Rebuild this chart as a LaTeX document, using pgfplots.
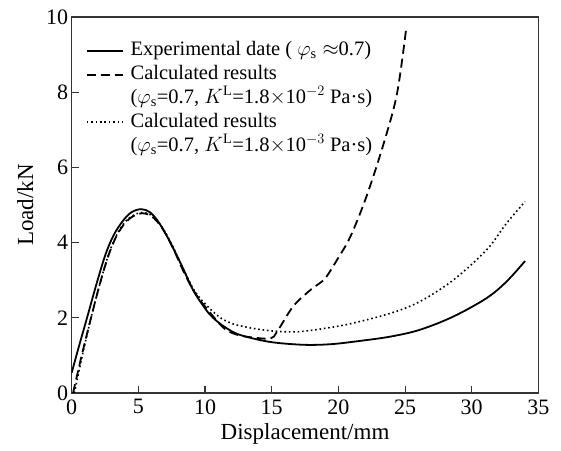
\documentclass[border=0pt]{standalone}
\usepackage{fontspec}
\setmainfont{Liberation Serif}
\usepackage{pgfplots}
\pgfplotsset{compat=1.18}
\begin{document}
\begin{tikzpicture}
\begin{axis}[
scale only axis,
width=466.7pt, height=376pt,
xmin=0, xmax=35,
ymin=0, ymax=10,
xtick={0,5,...,35},
ytick={0,2,...,10},
tick pos=left,
tick align=inside,
major tick length=7pt,
axis line style={black!80, line width=1.1pt},
every tick/.style={black!80, line width=1.1pt},
/pgf/number format/assume math mode=true,
ticklabel style={font=\fontsize{22}{26}\selectfont},
xticklabel style={yshift=-3pt},
xlabel={Displacement/mm},
ylabel={Load/kN},
xlabel style={font=\fontsize{23}{27}\selectfont, yshift=-2pt},
ylabel style={font=\fontsize{23}{27}\selectfont, yshift=6pt},
legend cell align=left,
legend style={draw=none, fill=none, at={(axis cs:0.82,9.45)}, anchor=north west,
  font=\fontsize{20.5}{24}\selectfont, row sep=1.8pt, column sep=6pt,
  nodes={inner sep=1pt, text height=15pt, text depth=5pt}},
legend image code/.code={\draw[#1] (0pt,0pt) -- (36pt,0pt);},
]
\addlegendimage{black, line width=1.8pt}
\addlegendentry{Experimental date ( $\varphi_{\mathrm{s}}\approx$0.7)}
\addlegendimage{black, line width=1.8pt, dash pattern=on 9pt off 5pt}
\addlegendentry{Calculated results}
\addlegendimage{empty legend}
\addlegendentry{($\varphi_{\mathrm{s}}$=0.7, $K^{\mathrm{L}}$=1.8$\times$10$^{-2}$ Pa·s)}
\addlegendimage{black, line width=1.6pt, dash pattern=on 1.6pt off 2.8pt}
\addlegendentry{Calculated results}
\addlegendimage{empty legend}
\addlegendentry{($\varphi_{\mathrm{s}}$=0.7, $K^{\mathrm{L}}$=1.8$\times$10$^{-3}$ Pa·s)}

% experimental
\addplot[forget plot, black, line width=1.8pt, smooth, tension=0.55] coordinates {
(0,0.54) (0.55,1.25) (1.15,2.0) (1.9,2.95) (2.55,3.7) (3.15,4.2) (3.8,4.56) (4.45,4.8) (5.2,4.89)
(5.9,4.8) (6.6,4.5) (7.4,4.0) (8.3,3.35) (9.1,2.74) (10.0,2.25) (10.6,2.0)
(11.5,1.75) (12.5,1.56) (14.1,1.41) (15.5,1.33) (17.6,1.28) (19.5,1.30)
(21.5,1.38) (23.9,1.5) (26.1,1.68) (28.6,2.03) (31.1,2.52) (32.6,2.96) (34.0,3.51)
};
% calculated, K = 1.8e-2
\addplot[forget plot, black, line width=1.8pt, dash pattern=on 9pt off 5pt, smooth, tension=0.55] coordinates {
(0.1,0) (0.75,1.0) (1.45,2.0) (2.15,2.95) (2.8,3.7) (3.4,4.2) (4.0,4.52) (4.6,4.7) (5.25,4.78)
(6.0,4.7) (6.8,4.38) (7.6,3.85) (8.5,3.15) (9.4,2.58) (10.7,2.0) (11.5,1.7)
(12.4,1.55) (13.5,1.48) (14.9,1.45) (15.4,1.63) (16.6,2.30) (17.9,2.74) (18.6,2.92)
(19.1,3.09) (20.0,3.6) (20.9,4.16) (22.1,5.22) (23.4,6.64) (24.4,7.97) (25.1,9.74)
};
% calculated, K = 1.8e-3
\addplot[forget plot, black, line width=1.6pt, dash pattern=on 1.6pt off 2.8pt, smooth, tension=0.55] coordinates {
(0.2,0) (0.8,1.0) (1.45,2.0) (2.15,2.95) (2.8,3.72) (3.4,4.22) (4.0,4.55) (4.6,4.72) (5.25,4.8)
(6.0,4.72) (6.8,4.4) (7.6,3.88) (8.5,3.2) (9.4,2.62) (10.9,2.07) (12.0,1.85)
(13.0,1.76) (14.1,1.69) (15.4,1.64) (17.0,1.63) (19.0,1.72) (21.0,1.85)
(23.9,2.12) (26.1,2.43) (28.6,3.0) (31.1,3.8) (32.6,4.51) (34.0,5.09)
};
\end{axis}
\path (current axis.south west) ++(-71.7pt,-57pt) rectangle ++(561pt,450pt);
\end{tikzpicture}
\end{document}
